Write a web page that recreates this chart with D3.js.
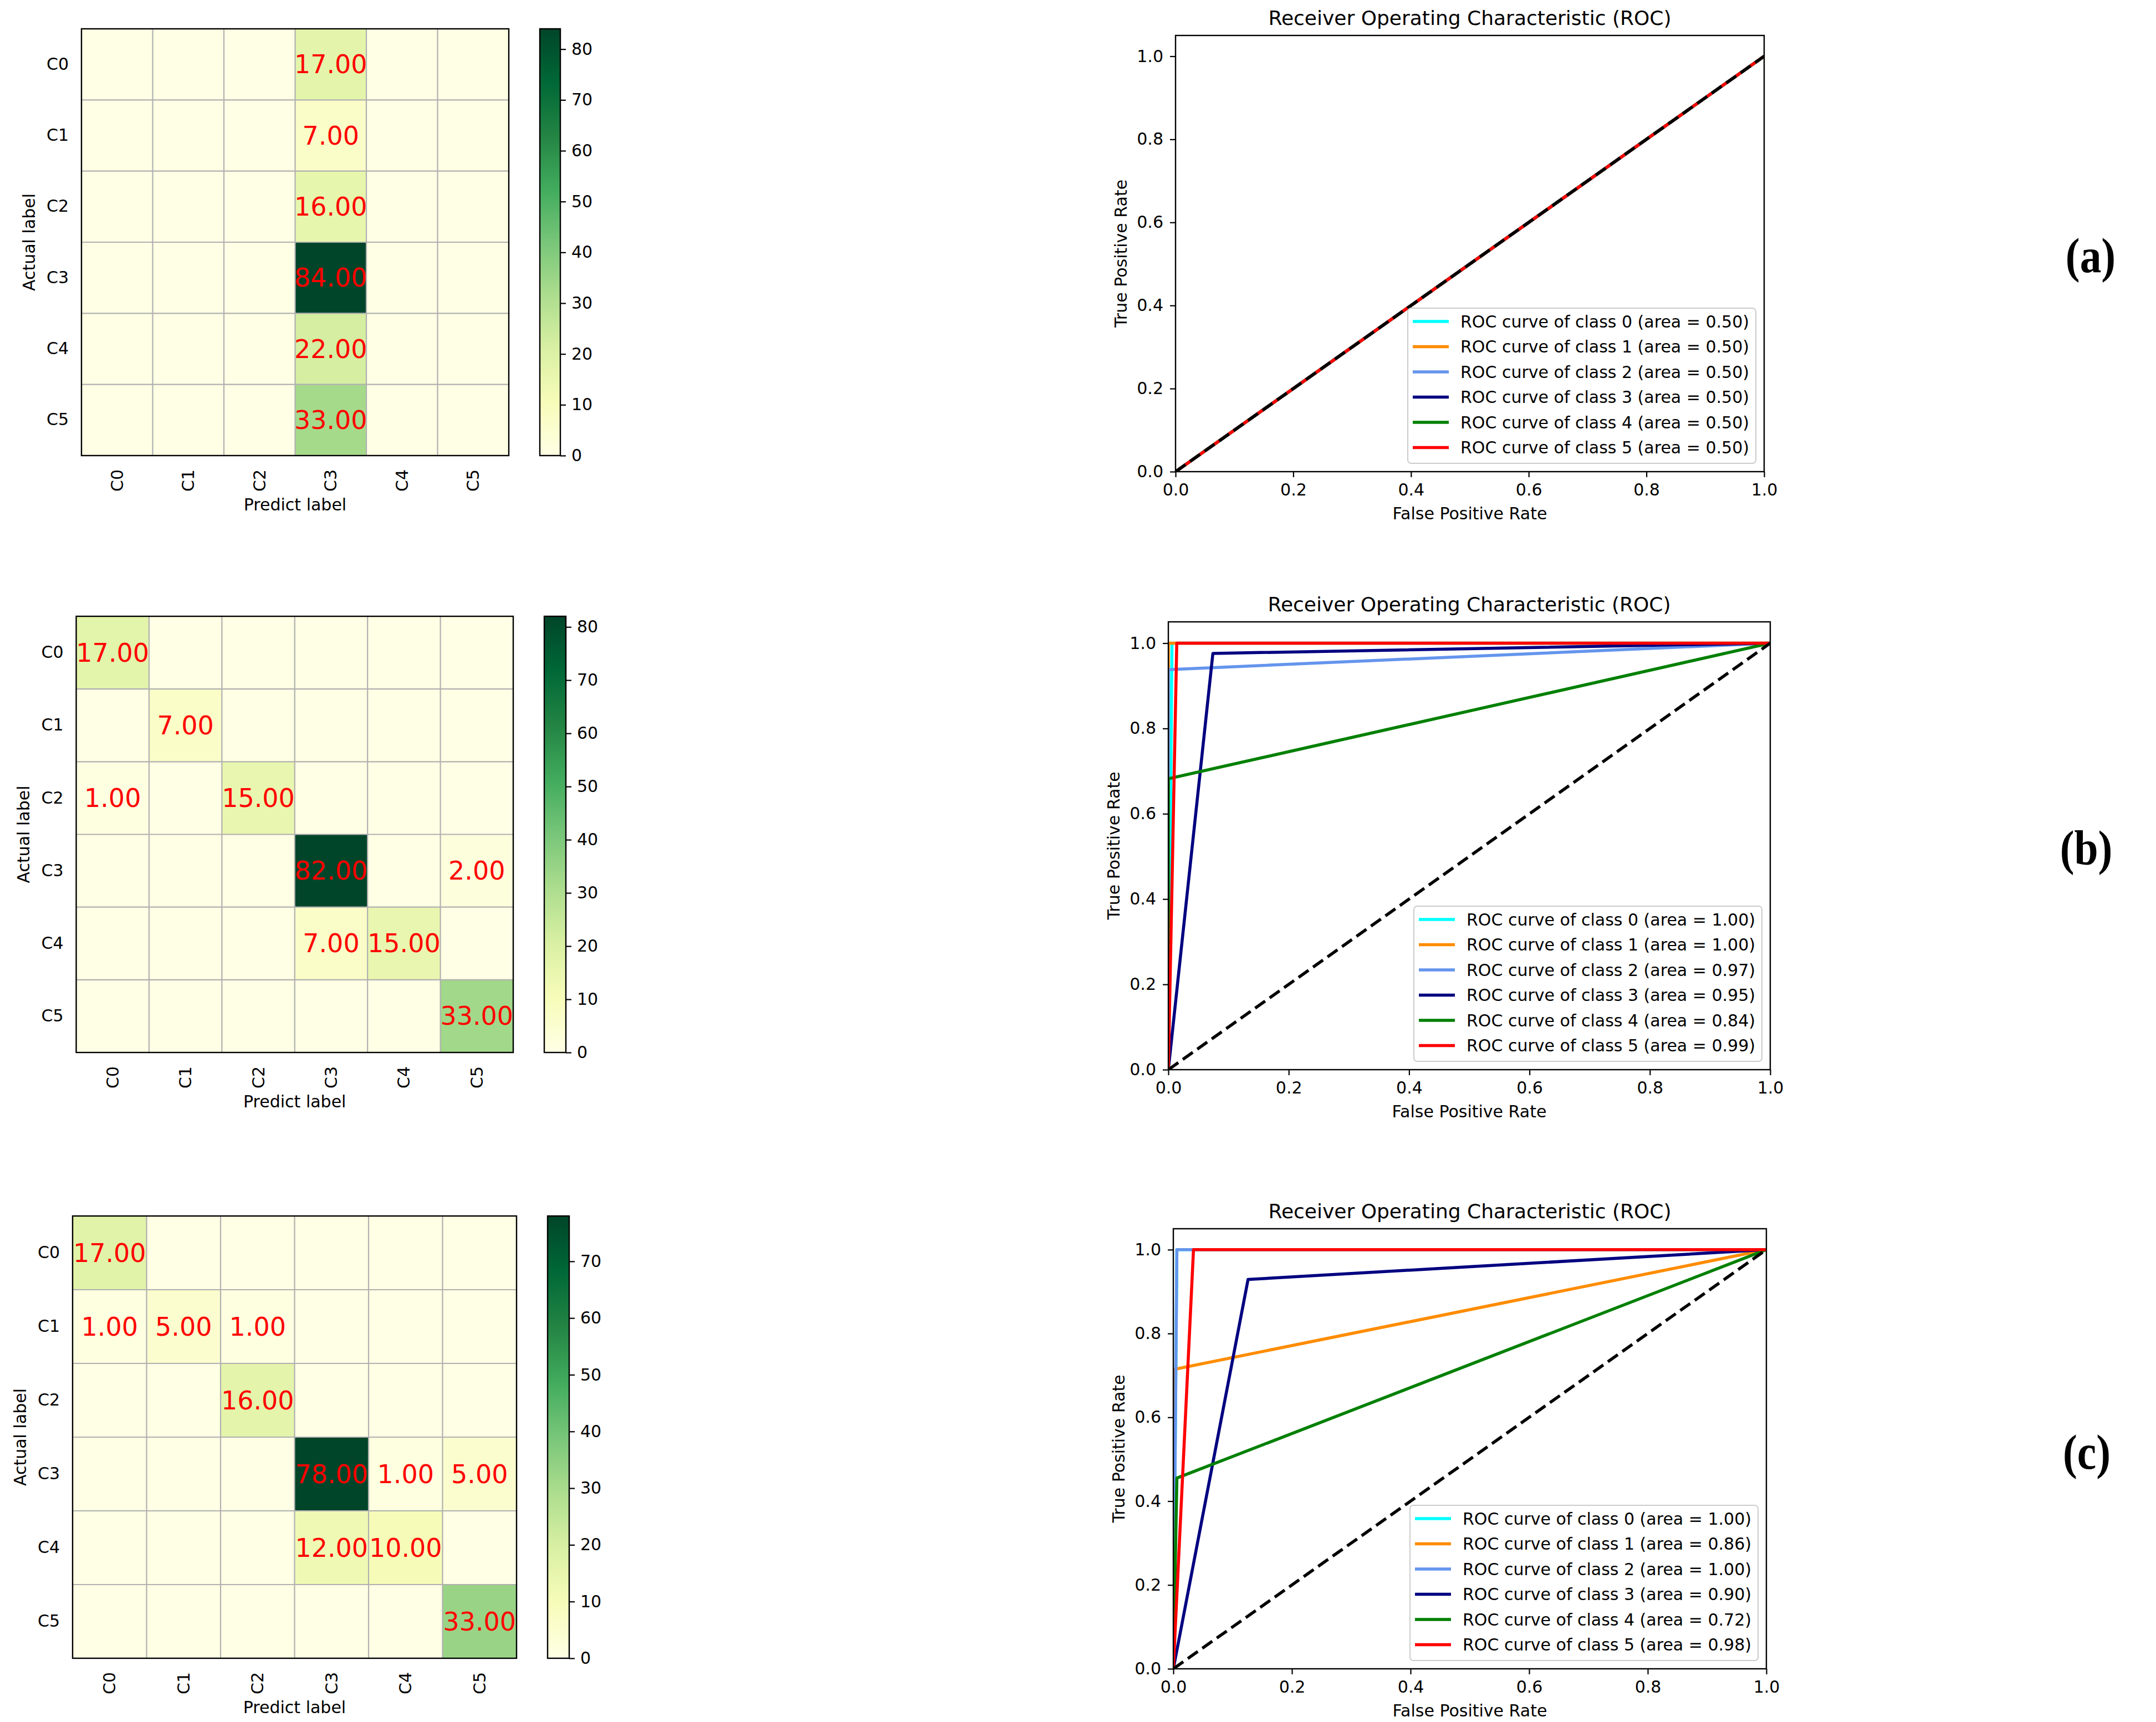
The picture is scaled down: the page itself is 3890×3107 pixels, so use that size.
<!DOCTYPE html>
<html>
<head>
<meta charset="utf-8">
<script src="https://cdn.jsdelivr.net/npm/d3@7"></script>
<style>
  body { margin: 0; background: #fff; }
  text { font-family: "DejaVu Sans", sans-serif; fill: #000; }
</style>
</head>
<body>
<svg id="fig" width="3890" height="3107"></svg>
<script>
// ---- data ----
var classes = ["C0", "C1", "C2", "C3", "C4", "C5"];

// confusion matrices, rows = actual, cols = predicted
var cmA = [
  [0, 0, 0, 17, 0, 0],
  [0, 0, 0, 7, 0, 0],
  [0, 0, 0, 16, 0, 0],
  [0, 0, 0, 84, 0, 0],
  [0, 0, 0, 22, 0, 0],
  [0, 0, 0, 33, 0, 0]
];
var cmB = [
  [17, 0, 0, 0, 0, 0],
  [0, 7, 0, 0, 0, 0],
  [1, 0, 15, 0, 0, 0],
  [0, 0, 0, 82, 0, 2],
  [0, 0, 0, 7, 15, 0],
  [0, 0, 0, 0, 0, 33]
];
var cmC = [
  [17, 0, 0, 0, 0, 0],
  [1, 5, 1, 0, 0, 0],
  [0, 0, 16, 0, 0, 0],
  [0, 0, 0, 78, 1, 5],
  [0, 0, 0, 12, 10, 0],
  [0, 0, 0, 0, 0, 33]
];
var cbTicksA = [0, 10, 20, 30, 40, 50, 60, 70, 80];
var cbTicksB = [0, 10, 20, 30, 40, 50, 60, 70, 80];
var cbTicksC = [0, 10, 20, 30, 40, 50, 60, 70];

// ROC curves, [fpr, tpr] points per class
var rocA = [
  [[0, 0], [1, 1]],
  [[0, 0], [1, 1]],
  [[0, 0], [1, 1]],
  [[0, 0], [1, 1]],
  [[0, 0], [1, 1]],
  [[0, 0], [1, 1]]
];
var aucA = ["0.50", "0.50", "0.50", "0.50", "0.50", "0.50"];
var rocB = [
  [[0, 0], [0.006, 1], [1, 1]],
  [[0, 0], [0, 1], [1, 1]],
  [[0, 0], [0, 0.938], [1, 1]],
  [[0, 0], [0.074, 0.976], [1, 1]],
  [[0, 0], [0, 0.682], [1, 1]],
  [[0, 0], [0.014, 1], [1, 1]]
];
var aucB = ["1.00", "1.00", "0.97", "0.95", "0.84", "0.99"];
var rocC = [
  [[0, 0], [0.006, 1], [1, 1]],
  [[0, 0], [0, 0.714], [1, 1]],
  [[0, 0], [0.006, 1], [1, 1]],
  [[0, 0], [0.126, 0.929], [1, 1]],
  [[0, 0], [0.006, 0.455], [1, 1]],
  [[0, 0], [0.034, 1], [1, 1]]
];
var aucC = ["1.00", "0.86", "1.00", "0.90", "0.72", "0.98"];
var rocTicks = [0, 0.2, 0.4, 0.6, 0.8, 1.0];
var diagonal = [[0, 0], [1, 1]];

var curveColors = ["#00ffff", "#ff8c00", "#6495ed", "#000080", "#008000", "#ff0000"];
var ylgn = ["#ffffe5", "#f7fcb9", "#d9f0a3", "#addd8e", "#78c679", "#41ab5d", "#238443", "#006837", "#004529"];

// ---- layout ----
var cmPanels = [
  {data: cmA, ticks: cbTicksA, x0: 147, x1: 918, y0: 52, y1: 822, cb0: 974, cb1: 1011},
  {data: cmB, ticks: cbTicksB, x0: 137.5, x1: 926, y0: 1112, y1: 1899, cb0: 982, cb1: 1021},
  {data: cmC, ticks: cbTicksC, x0: 131, x1: 932, y0: 2194, y1: 2992, cb0: 988, cb1: 1027}
];
var rocPanels = [
  {curves: rocA, auc: aucA, x0: 2121, x1: 3183, y0: 64, y1: 851, tag: "(a)", tx: 3772, ty: 461},
  {curves: rocB, auc: aucB, x0: 2108, x1: 3194, y0: 1122, y1: 1930, tag: "(b)", tx: 3764, ty: 1530},
  {curves: rocC, auc: aucC, x0: 2117, x1: 3187, y0: 2217, y1: 3011, tag: "(c)", tx: 3765, ty: 2620}
];

var svg = d3.select("#fig");
svg.append("rect").attr("width", 3890).attr("height", 3107).attr("fill", "#fff");
var defs = svg.append("defs");

var FS = 30;
var LW = 5.5;

function styleAxis(g) {
  g.selectAll("text").attr("font-size", FS).attr("font-family", "DejaVu Sans").attr("fill", "#000");
  g.selectAll("line").attr("stroke", "#000").attr("stroke-width", 2.2);
}

// ---- confusion matrices ----
cmPanels.forEach(function (p, pi) {
  var g = svg.append("g");
  var flat = [];
  p.data.forEach(function (row, r) {
    row.forEach(function (v, c) { flat.push({r: r, c: c, v: v}); });
  });
  var vmax = d3.max(flat, function (d) { return d.v; });
  var color = d3.scaleLinear()
    .domain(ylgn.map(function (d, i) { return i / (ylgn.length - 1) * vmax; }))
    .range(ylgn)
    .interpolate(d3.interpolateRgb);

  var x = d3.scaleBand().domain(classes).range([p.x0, p.x1]);
  var y = d3.scaleBand().domain(classes).range([p.y0, p.y1]);

  g.selectAll(".cell").data(flat).enter().append("rect")
    .attr("x", function (d) { return x(classes[d.c]); })
    .attr("y", function (d) { return y(classes[d.r]); })
    .attr("width", x.bandwidth() + 0.5)
    .attr("height", y.bandwidth() + 0.5)
    .attr("fill", function (d) { return color(d.v); });

  // grid lines at cell borders
  classes.slice(1).forEach(function (c) {
    g.append("line").attr("x1", x(c)).attr("x2", x(c)).attr("y1", p.y0).attr("y2", p.y1)
      .attr("stroke", "#b0b0b0").attr("stroke-width", 2.2);
    g.append("line").attr("y1", y(c)).attr("y2", y(c)).attr("x1", p.x0).attr("x2", p.x1)
      .attr("stroke", "#b0b0b0").attr("stroke-width", 2.2);
  });

  g.selectAll(".val").data(flat.filter(function (d) { return d.v > 0; })).enter().append("text")
    .attr("x", function (d) { return x(classes[d.c]) + x.bandwidth() / 2; })
    .attr("y", function (d) { return y(classes[d.r]) + y.bandwidth() / 2; })
    .attr("text-anchor", "middle")
    .attr("dominant-baseline", "central")
    .attr("font-size", 46)
    .style("fill", "#ff0000")
    .text(function (d) { return d.v.toFixed(2); });

  g.append("rect").attr("x", p.x0).attr("y", p.y0)
    .attr("width", p.x1 - p.x0).attr("height", p.y1 - p.y0)
    .attr("fill", "none").attr("stroke", "#000").attr("stroke-width", 2.4);

  // tick labels
  var ya = g.append("g").attr("transform", "translate(" + p.x0 + ",0)")
    .call(d3.axisLeft(y).tickSize(0).tickPadding(23));
  ya.select(".domain").remove();
  styleAxis(ya);

  var xa = g.append("g").attr("transform", "translate(0," + p.y1 + ")")
    .call(d3.axisBottom(x).tickSize(0));
  xa.select(".domain").remove();
  styleAxis(xa);
  xa.selectAll("text")
    .attr("transform", "rotate(-90)")
    .attr("x", -25).attr("y", 0).attr("dy", "0.35em")
    .attr("text-anchor", "end");

  g.append("text").attr("x", (p.x0 + p.x1) / 2).attr("y", p.y1 + 88)
    .attr("text-anchor", "middle").attr("dominant-baseline", "central")
    .attr("font-size", FS).text("Predict label");
  g.append("text")
    .attr("transform", "translate(" + (p.x0 - 95) + "," + ((p.y0 + p.y1) / 2) + ") rotate(-90)")
    .attr("text-anchor", "middle").attr("dominant-baseline", "central")
    .attr("font-size", FS).text("Actual label");

  // colorbar
  var gid = "cbgrad" + pi;
  var grad = defs.append("linearGradient").attr("id", gid)
    .attr("x1", 0).attr("y1", 1).attr("x2", 0).attr("y2", 0);
  ylgn.forEach(function (c, i) {
    grad.append("stop").attr("offset", (i / (ylgn.length - 1) * 100) + "%").attr("stop-color", c);
  });
  g.append("rect").attr("x", p.cb0).attr("y", p.y0)
    .attr("width", p.cb1 - p.cb0).attr("height", p.y1 - p.y0)
    .attr("fill", "url(#" + gid + ")").attr("stroke", "#000").attr("stroke-width", 2.4);
  var cbScale = d3.scaleLinear().domain([0, vmax]).range([p.y1, p.y0]);
  var cba = g.append("g").attr("transform", "translate(" + p.cb1 + ",0)")
    .call(d3.axisRight(cbScale).tickValues(p.ticks).tickSize(10).tickPadding(10).tickFormat(d3.format("d")));
  cba.select(".domain").remove();
  styleAxis(cba);
});

// ---- ROC curves ----
rocPanels.forEach(function (p, pi) {
  var g = svg.append("g");
  var x = d3.scaleLinear().domain([0, 1]).range([p.x0, p.x1]);
  var y = d3.scaleLinear().domain([0, 1.05]).range([p.y1, p.y0]);
  var cid = "rocclip" + pi;
  defs.append("clipPath").attr("id", cid).append("rect")
    .attr("x", p.x0).attr("y", p.y0).attr("width", p.x1 - p.x0).attr("height", p.y1 - p.y0);

  var line = d3.line().x(function (d) { return x(d[0]); }).y(function (d) { return y(d[1]); });
  var plot = g.append("g").attr("clip-path", "url(#" + cid + ")");
  plot.selectAll(".curve").data(p.curves).enter().append("path")
    .attr("d", line)
    .attr("fill", "none")
    .attr("stroke", function (d, i) { return curveColors[i]; })
    .attr("stroke-width", LW)
    .attr("stroke-linejoin", "round");
  plot.append("path").attr("d", line(diagonal))
    .attr("fill", "none").attr("stroke", "#000").attr("stroke-width", LW)
    .attr("stroke-dasharray", "22,10");

  g.append("rect").attr("x", p.x0).attr("y", p.y0)
    .attr("width", p.x1 - p.x0).attr("height", p.y1 - p.y0)
    .attr("fill", "none").attr("stroke", "#000").attr("stroke-width", 2.4);

  var xa = g.append("g").attr("transform", "translate(0," + p.y1 + ")")
    .call(d3.axisBottom(x).tickValues(rocTicks).tickFormat(d3.format(".1f")).tickSize(10).tickSizeOuter(0).tickPadding(12));
  xa.select(".domain").remove();
  styleAxis(xa);
  var ya = g.append("g").attr("transform", "translate(" + p.x0 + ",0)")
    .call(d3.axisLeft(y).tickValues(rocTicks).tickFormat(d3.format(".1f")).tickSize(10).tickSizeOuter(0).tickPadding(12));
  ya.select(".domain").remove();
  styleAxis(ya);

  g.append("text").attr("x", (p.x0 + p.x1) / 2).attr("y", p.y0 - 32)
    .attr("text-anchor", "middle").attr("dominant-baseline", "central")
    .attr("font-size", 36).text("Receiver Operating Characteristic (ROC)");
  g.append("text").attr("x", (p.x0 + p.x1) / 2).attr("y", p.y1 + 75)
    .attr("text-anchor", "middle").attr("dominant-baseline", "central")
    .attr("font-size", FS).text("False Positive Rate");
  g.append("text")
    .attr("transform", "translate(" + (p.x0 - 99) + "," + ((p.y0 + p.y1) / 2) + ") rotate(-90)")
    .attr("text-anchor", "middle").attr("dominant-baseline", "central")
    .attr("font-size", FS).text("True Positive Rate");

  // legend, lower right
  var lw = 628, lh = 280;
  var lx = p.x1 - 15 - lw, ly = p.y1 - 15 - lh;
  var lg = g.append("g");
  lg.append("rect").attr("x", lx).attr("y", ly).attr("width", lw).attr("height", lh)
    .attr("rx", 6).attr("fill", "#fff").attr("fill-opacity", 0.8)
    .attr("stroke", "#cccccc").attr("stroke-width", 2);
  var items = lg.selectAll(".item").data(p.auc).enter().append("g")
    .attr("transform", function (d, i) { return "translate(" + lx + "," + (ly + 24 + i * 45.5) + ")"; });
  items.append("line").attr("x1", 9).attr("x2", 74).attr("y1", 0).attr("y2", 0)
    .attr("stroke", function (d, i) { return curveColors[i]; }).attr("stroke-width", LW);
  items.append("text").attr("x", 95).attr("y", 0).attr("dominant-baseline", "central")
    .attr("font-size", FS)
    .text(function (d, i) { return "ROC curve of class " + i + " (area = " + d + ")"; });

  // panel tag
  g.append("text")
    .attr("transform", "translate(" + p.tx + "," + p.ty + ") scale(0.88,1)")
    .attr("text-anchor", "middle").attr("dominant-baseline", "central")
    .style("font-family", "'Liberation Serif', serif")
    .attr("font-weight", "bold").attr("font-size", 88)
    .text(p.tag);
});
</script>
</body>
</html>
